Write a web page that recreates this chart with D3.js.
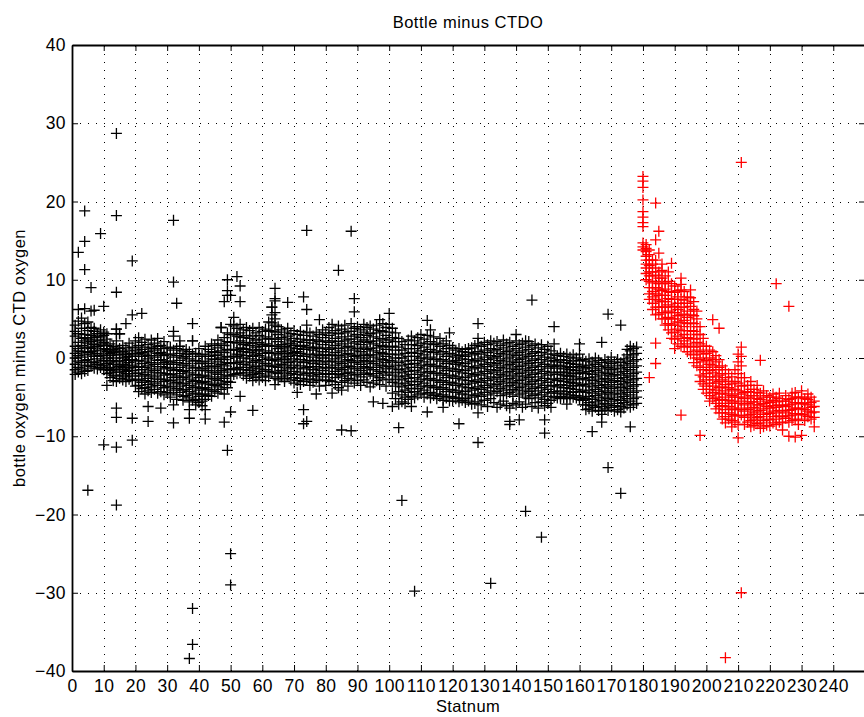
<!DOCTYPE html>
<html><head><meta charset="utf-8">
<script src="https://cdn.jsdelivr.net/npm/d3@7"></script>
<style>
html,body{margin:0;padding:0;background:#fff;overflow:hidden}
text{font-family:"Liberation Sans",Arial,Helvetica,sans-serif;fill:#000}
</style></head><body>
<svg id="chart" width="864" height="717"></svg>
<script>
// ---- data: bottle minus CTDO oxygen differences per station ----
const title = "Bottle minus CTDO";
const xLabel = "Statnum";
const yLabel = "bottle oxygen minus CTD oxygen";
const xTicks = [0,10,20,30,40,50,60,70,80,90,100,110,120,130,140,150,160,170,180,190,200,210,220,230,240];
const yTicks = [-40,-30,-20,-10,0,10,20,30,40];

// black casts: [station, values]
const blackCore = [
[1,[4.2,2.8,1.5,0.6,0,-0.8,-1.5,-2.1,3.4]],
[2,[4.7,3.1,2,1.2,0.3,-0.4,-1.2,-1.8,0.9]],
[3,[3.8,2.5,1.6,0.8,0.1,-0.6,-1.4,-2,5.1]],
[4,[4.4,3,2.2,1.4,0.5,-0.3,-1,-1.7,2.6]],
[5,[3.5,2.4,1.3,0.7,-0.2,-0.9,-1.6,1.9,4.6]],
[6,[3.9,2.9,2.1,1.2,0.4,-0.5,-1.1,2.6,0.8]],
[7,[3.4,2.6,1.7,0.9,0.2,-0.6,-1.3,3.8,1.4]],
[8,[3.1,2.3,1.5,0.6,-0.1,-0.8,-1.4,2.7,0.2]],
[9,[3.6,2.7,1.8,1,0.3,-0.4,-1.2,2.2,-0.9]],
[10,[2.9,2,1.2,0.4,-0.3,-1,-1.5,3.3,1.6]],
[11,[2.4,1.6,0.8,0,-0.7,-1.4,-2,1.1,3.1]],
[12,[1.8,1,0.3,-0.5,-1.2,-1.9,-2.5,0.6,-1.6]],
[13,[1.5,0.7,0,-0.8,-1.5,-2.2,-2.9,1.1,-0.3]],
[14,[3.7,3.1,2.2,1.3,0.4,-0.5,-1.4,-2.3,-3,0.9,-1.8]],
[15,[3.1,1.2,0.4,-0.4,-1.1,-1.8,-2.6,0.8,-0.9]],
[16,[1.6,0.8,0,-0.8,-1.5,-2.2,-2.8,0.5,-1.2]],
[17,[1.3,0.5,-0.3,-1,-1.7,-2.4,-3,0.1,-2]],
[18,[1.9,1,0.2,-0.6,-1.3,-2,-2.7,-0.2,-1.6]],
[19,[1.4,0.6,-0.2,-0.9,-1.6,-2.3,-2.9,0.2,-1.2]],
[20,[2.2,1.3,0.4,-0.4,-1.2,-2,-2.8,-3.6,0.9]],
[21,[2.6,1.6,0.6,-0.3,-1.1,-1.9,-2.7,-3.5,-4.3]],
[22,[2,1.1,0.2,-0.7,-1.5,-2.3,-3.1,-3.9,0.7]],
[23,[2.4,1.4,0.5,-0.4,-1.2,-2.1,-2.9,-3.8,-4.6]],
[24,[1.7,0.8,-0.1,-1,-1.8,-2.6,-3.4,-4.2,0.3]],
[25,[2.3,1.3,0.3,-0.6,-1.4,-2.2,-3,-3.7,-4.4]],
[26,[1.9,1,0.1,-0.8,-1.6,-2.4,-3.2,-4,1.2]],
[27,[2.5,1.5,0.6,-0.3,-1.1,-1.9,-2.7,-3.5,-4.5]],
[28,[1.6,0.7,-0.2,-1.1,-1.9,-2.7,-3.5,-4.3,0.4]],
[29,[2.1,1.2,0.3,-0.6,-1.4,-2.2,-3,-3.8,-4.7]],
[30,[1.3,0.5,-0.4,-1.2,-2,-2.8,-3.6,-4.4,-0.8]],
[31,[1.4,0.5,-0.4,-1.3,-2.1,-2.9,-3.7,-4.5,-5]],
[32,[3.4,2.8,1,0.1,-0.8,-1.6,-2.5,-3.3,-4.1]],
[33,[1.2,0.3,-0.6,-1.5,-2.3,-3.1,-3.9,-4.7,-5.3]],
[34,[1.5,0.6,-0.3,-1.2,-2,-2.8,-3.6,-4.4,2.2]],
[35,[0.9,0,-0.9,-1.7,-2.5,-3.3,-4.1,-4.9,-5.4]],
[36,[1.1,0.2,-0.7,-1.6,-2.4,-3.2,-4,-4.8,0.5]],
[37,[0.8,-0.1,-1,-1.9,-2.7,-3.5,-4.3,-5.1,-5.6]],
[38,[2.2,0.5,-0.4,-1.3,-2.2,-3,-3.8,-4.6,-5.4]],
[39,[0.6,-0.3,-1.2,-2.1,-2.9,-3.7,-4.5,-5.3,-6]],
[40,[1.2,0.2,-0.7,-1.6,-2.5,-3.3,-4.1,-4.9,-5.7]],
[41,[0.4,-0.5,-1.4,-2.3,-3.1,-3.9,-4.7,-5.5,-6.1]],
[42,[1.5,0.5,-0.4,-1.3,-2.2,-3,-3.8,-4.6,-5.3]],
[43,[1.1,0.2,-0.7,-1.6,-2.4,-3.2,-4,-4.8,-1.1]],
[44,[1.8,0.8,-0.1,-1,-1.8,-2.6,-3.4,-4.2,-4.9]],
[45,[1.6,0.7,-0.2,-1.1,-1.9,-2.7,-3.5,-4.3,0.3]],
[46,[2.3,1.3,0.4,-0.5,-1.3,-2.1,-2.9,-3.7,-4.5]],
[47,[3.9,1.8,0.9,0,-0.8,-1.6,-2.4,-3.2,-4]],
[48,[2.6,1.6,0.7,-0.2,-1,-1.8,-2.6,-3.4,-4.6]],
[49,[3.2,2.1,1.1,0.2,-0.6,-1.4,-2.2,-3,-3.8]],
[50,[4.3,3,2,1,0.1,-0.7,-1.5,-2.3,-3.1]],
[51,[4.1,3,2,1.1,0.2,-0.6,-1.4,-2.1,5.2]],
[52,[3.8,2.8,1.9,1,0.2,-0.6,-1.3,-2,0.5]],
[53,[4.3,3.2,2.2,1.3,0.4,-0.4,-1.2,-1.9,2.7]],
[54,[3.6,2.6,1.7,0.8,0,-0.8,-1.5,-2.2,1.2]],
[55,[3.9,2.9,2,1.1,0.3,-0.5,-1.2,-1.9,-2.6]],
[56,[3.5,2.5,1.6,0.7,-0.1,-0.9,-1.6,-2.3,1.9]],
[57,[3.8,2.8,1.9,1,0.2,-0.6,-1.4,-2.1,-2.9]],
[58,[3.2,2.3,1.4,0.5,-0.3,-1.1,-1.8,-2.5,0.9]],
[59,[3.9,2.9,2,1.1,0.3,-0.5,-1.3,-2,-2.8]],
[60,[3.4,2.4,1.5,0.6,-0.2,-1,-1.7,-2.4,1.7]],
[61,[3.7,2.7,1.8,0.9,0.1,-0.7,-1.5,-2.2,-2.9]],
[62,[4.6,3.5,2.5,1.6,0.7,-0.1,-0.9,-1.7,-2.4]],
[63,[6.5,5.5,4.5,3.4,2.4,1.5,0.6,-0.3,-1.1,-1.9]],
[64,[5,4.2,3.3,2.4,1.5,0.6,-0.2,-1,-1.8,-2.6]],
[65,[4,3,2.1,1.2,0.4,-0.4,-1.2,-2,-2.8]],
[66,[3.6,2.6,1.7,0.8,0,-0.8,-1.6,-2.4,1.3]],
[67,[3.3,2.4,1.5,0.6,-0.2,-1,-1.8,-2.6,-3]],
[68,[3.8,2.8,1.9,1,0.2,-0.6,-1.4,-2.2,0.6]],
[69,[3.1,2.2,1.3,0.4,-0.4,-1.2,-2,-2.8,1.8]],
[70,[3.5,2.5,1.6,0.7,-0.1,-0.9,-1.7,-2.5,-3.2]],
[71,[3,2.1,1.2,0.3,-0.5,-1.3,-2.1,-2.9,0.8]],
[72,[3.4,2.4,1.5,0.6,-0.2,-1,-1.8,-2.6,-3.4]],
[73,[2.9,2,1.1,0.2,-0.6,-1.4,-2.2,-3,1.6]],
[74,[4.2,3.3,2.3,1.3,0.4,-0.4,-1.2,-2,-2.8]],
[75,[3.2,2.3,1.4,0.5,-0.3,-1.1,-1.9,-2.7,-3.5]],
[76,[2.8,1.9,1,0.1,-0.7,-1.5,-2.3,-3.1,1.3]],
[77,[3.3,2.3,1.4,0.5,-0.3,-1.1,-1.9,-2.7,-4.6]],
[78,[3,2.1,1.2,0.3,-0.5,-1.3,-2.1,-2.9,-3.6]],
[79,[3.6,2.6,1.7,0.8,0,-0.8,-1.6,-2.4,0.4]],
[80,[3.2,2.2,1.3,0.4,-0.4,-1.2,-2,-2.8,-3.5]],
[81,[3.9,2.9,2,1.1,0.3,-0.5,-1.3,-2.1,-2.9]],
[82,[4.3,3.2,2.2,1.3,0.4,-0.4,-1.2,-2,-3]],
[83,[3.5,2.5,1.6,0.7,-0.1,-0.9,-1.7,-2.5,-3.4]],
[84,[4.1,3.1,2.1,1.2,0.3,-0.5,-1.3,-2.1,-3.8]],
[85,[3.7,2.7,1.8,0.9,0.1,-0.7,-1.5,-2.3,-3.1]],
[86,[4.2,3.2,2.2,1.3,0.4,-0.4,-1.2,-2,-2.9]],
[87,[3.4,2.4,1.5,0.6,-0.2,-1,-1.8,-2.6,-3.6]],
[88,[4.4,3.4,2.4,1.4,0.5,-0.3,-1.1,-1.9,-2.7]],
[89,[3.8,2.8,1.9,1,0.2,-0.6,-1.4,-2.2,-3.2]],
[90,[4,3,2.1,1.2,0.3,-0.5,-1.3,-2.1,-2.9]],
[91,[3.6,2.6,1.7,0.8,0,-0.8,-1.6,-2.4,-3.5]],
[92,[4.3,3.3,2.3,1.4,0.5,-0.3,-1.1,-1.9,-2.8]],
[93,[3.9,2.9,2,1.1,0.3,-0.5,-1.3,-2.1,-3.1]],
[94,[4.1,3.1,2.1,1.2,0.4,-0.4,-1.2,-2,-3.7]],
[95,[3.7,2.7,1.8,0.9,0.1,-0.7,-1.5,-2.3,-3.2]],
[96,[4.2,3.2,2.2,1.3,0.4,-0.4,-1.2,-2,-2.9]],
[97,[3.5,2.5,1.6,0.7,-0.1,-0.9,-1.7,-2.5,-3.4]],
[98,[4.4,3.4,2.4,1.5,0.6,-0.2,-1,-1.8,-2.7]],
[99,[3.9,2.9,2,1.1,0.2,-0.6,-1.4,-2.2,-3.6]],
[100,[4.3,3.3,2.3,1.4,0.5,-0.3,-1.1,-1.9,-2.8]],
[101,[3.8,2.6,1.5,0.5,-0.4,-1.3,-2.2,-3.1,-4.5]],
[102,[3.2,2.1,1,0,-0.9,-1.8,-2.7,-3.6,-5.2]],
[103,[2.5,1.4,0.4,-0.6,-1.5,-2.4,-3.3,-4.3,-5.9]],
[104,[2.1,1,0,-1,-1.9,-2.8,-3.7,-4.7,-5.6]],
[105,[1.7,0.6,-0.4,-1.4,-2.3,-3.2,-4.1,-5,-5.8]],
[106,[2.3,1.2,0.2,-0.8,-1.7,-2.6,-3.5,-4.4,-5.3]],
[107,[2.8,1.7,0.7,-0.3,-1.2,-2.1,-3,-3.9,-4.9]],
[108,[2.2,1.2,0.2,-0.7,-1.6,-2.5,-3.4,-4.3,-5.1]],
[109,[2.6,1.6,0.6,-0.3,-1.2,-2.1,-3,-3.9,-4.7]],
[110,[3,1.9,0.9,0,-0.9,-1.8,-2.7,-3.6,-4.5]],
[111,[2.4,1.4,0.4,-0.5,-1.4,-2.3,-3.2,-4.1,-5]],
[112,[2.9,1.8,0.8,-0.1,-1,-1.9,-2.8,-3.7,-4.6]],
[113,[2.1,1.1,0.1,-0.8,-1.7,-2.6,-3.5,-4.4,-5.1]],
[114,[2.7,1.7,0.7,-0.2,-1.1,-2,-2.9,-3.8,-4.8]],
[115,[1.9,0.9,-0.1,-1,-1.9,-2.8,-3.7,-4.6,-5.2]],
[116,[2.5,1.5,0.5,-0.4,-1.3,-2.2,-3.1,-4,-4.9]],
[117,[1.8,0.8,-0.2,-1.1,-2,-2.9,-3.8,-4.7,-5.4]],
[118,[2.2,1.2,0.2,-0.7,-1.6,-2.5,-3.4,-4.3,-5.1]],
[119,[1.6,0.6,-0.4,-1.3,-2.2,-3.1,-4,-4.9,-5.5]],
[120,[1.3,0.4,-0.5,-1.4,-2.3,-3.2,-4.1,-5,-5.5]],
[121,[1,0.1,-0.8,-1.7,-2.6,-3.5,-4.4,-5.2,-0.3]],
[122,[1.2,0.3,-0.6,-1.5,-2.4,-3.3,-4.2,-5.1,-5.6]],
[123,[0.8,-0.1,-1,-1.9,-2.8,-3.7,-4.6,-5.4,0.4]],
[124,[1.1,0.2,-0.7,-1.6,-2.5,-3.4,-4.3,-5.2,-5.7]],
[125,[0.7,-0.2,-1.1,-2,-2.9,-3.8,-4.7,-5.5,1.2]],
[126,[1.3,0.4,-0.5,-1.4,-2.3,-3.2,-4.1,-5,-5.9]],
[127,[1.6,0.6,-0.3,-1.2,-2.1,-3,-3.9,-4.8,-5.8]],
[128,[1.8,0.8,-0.1,-1,-1.9,-2.8,-3.7,-4.6,-5.6]],
[129,[1.5,0.5,-0.4,-1.3,-2.2,-3.1,-4,-4.9,-6]],
[130,[2,1,0.1,-0.8,-1.7,-2.6,-3.5,-4.4,-5.4]],
[131,[1.7,0.7,-0.2,-1.1,-2,-2.9,-3.8,-4.7,-6.2]],
[132,[2.2,1.2,0.3,-0.6,-1.5,-2.4,-3.3,-4.2,-5.2]],
[133,[1.9,0.9,0,-0.9,-1.8,-2.7,-3.6,-4.5,-5.7]],
[134,[2.1,1.1,0.2,-0.7,-1.6,-2.5,-3.4,-4.3,-6.3]],
[135,[1.6,0.6,-0.3,-1.2,-2.1,-3,-3.9,-4.8,-5.9]],
[136,[2.3,1.3,0.4,-0.5,-1.4,-2.3,-3.2,-4.1,-5.5]],
[137,[1.8,0.8,-0.1,-1,-1.9,-2.8,-3.7,-4.6,-6.1]],
[138,[2,1,0.1,-0.8,-1.7,-2.6,-3.5,-4.4,-6.4]],
[139,[1.5,0.5,-0.4,-1.3,-2.2,-3.1,-4,-4.9,-5.8]],
[140,[2.2,1.2,0.3,-0.6,-1.5,-2.4,-3.3,-4.2,-6]],
[141,[1.7,0.7,-0.2,-1.1,-2,-2.9,-3.8,-4.7,-5.6]],
[142,[1.9,0.9,0,-0.9,-1.8,-2.7,-3.6,-4.5,-6.3]],
[143,[1.4,0.4,-0.5,-1.4,-2.3,-3.2,-4.1,-5,-5.9]],
[144,[2.1,1.1,0.2,-0.7,-1.6,-2.5,-3.4,-4.3,-5.2]],
[145,[1.6,0.6,-0.3,-1.2,-2.1,-3,-3.9,-4.8,-6.2]],
[146,[1.8,0.8,-0.1,-1,-1.9,-2.8,-3.7,-4.6,-5.7]],
[147,[1.3,0.3,-0.6,-1.5,-2.4,-3.3,-4.2,-5.1,-6.4]],
[148,[1.7,0.7,-0.2,-1.1,-2,-2.9,-3.8,-4.7,-5.6]],
[149,[1.1,0.1,-0.8,-1.7,-2.6,-3.5,-4.4,-5.3,-6.1]],
[150,[1.5,0.5,-0.4,-1.3,-2.2,-3.1,-4,-4.9,-5.8]],
[151,[0.9,0,-0.9,-1.8,-2.7,-3.6,-4.5,-5.4,-6.3]],
[152,[0.5,-0.3,-1.1,-1.9,-2.7,-3.5,-4.3,-5,1.8]],
[153,[0.3,-0.5,-1.3,-2.1,-2.9,-3.7,-4.5,-5.1,-0.9]],
[154,[0.6,-0.2,-1,-1.8,-2.6,-3.4,-4.2,-4.9,-5.2]],
[155,[0.2,-0.6,-1.4,-2.2,-3,-3.8,-4.6,-5.1,-1.8]],
[156,[0.5,-0.3,-1.1,-1.9,-2.7,-3.5,-4.3,-5,-2.3]],
[157,[0.1,-0.7,-1.5,-2.3,-3.1,-3.9,-4.7,-5.2,-1.2]],
[158,[0.4,-0.4,-1.2,-2,-2.8,-3.6,-4.4,-5,-3.2]],
[159,[0,-0.8,-1.6,-2.4,-3.2,-4,-4.8,-5.1,-2]],
[160,[0.5,-0.3,-1.1,-1.9,-2.7,-3.5,-4.3,-5,-5.3]],
[161,[-0.2,-1,-1.8,-2.6,-3.4,-4.2,-5,-5.4,-1.4]],
[162,[-0.4,-1.2,-2,-2.8,-3.6,-4.4,-5.2,-6,-6.6]],
[163,[-0.1,-0.9,-1.7,-2.5,-3.3,-4.1,-4.9,-5.7,-6.5]],
[164,[-0.5,-1.3,-2.1,-2.9,-3.7,-4.5,-5.3,-6.1,-6.8]],
[165,[0,-0.8,-1.6,-2.4,-3.2,-4,-4.8,-5.6,-6.3]],
[166,[-0.3,-1.1,-1.9,-2.7,-3.5,-4.3,-5.1,-5.9,-6.7]],
[167,[-0.6,-1.4,-2.2,-3,-3.8,-4.6,-5.4,-6.2,-6.8]],
[168,[-0.2,-1,-1.8,-2.6,-3.4,-4.2,-5,-5.8,-6.5]],
[169,[-0.4,-1.2,-2,-2.8,-3.6,-4.4,-5.2,-6,-6.7]],
[170,[0.1,-0.7,-1.5,-2.3,-3.1,-3.9,-4.7,-5.5,-6.3]],
[171,[-0.5,-1.3,-2.1,-2.9,-3.7,-4.5,-5.3,-6.1,-6.8]],
[172,[-0.2,-1,-1.8,-2.6,-3.4,-4.2,-5,-5.8,-6.6]],
[173,[-0.6,-1.4,-2.2,-3,-3.8,-4.6,-5.4,-6.2,-6.9]],
[174,[-0.1,-0.9,-1.7,-2.5,-3.3,-4.1,-4.9,-5.7,-6.4]],
[175,[0.4,-0.4,-1.2,-2,-2.8,-3.6,-4.4,-5.2,-6]],
[176,[1.5,0.9,0.1,-0.7,-1.5,-2.3,-3.1,-3.9,-4.7,-5.5,-6.3]],
[177,[1.2,0.4,-0.4,-1.2,-2,-2.8,-3.6,-4.4,-5.2,-6]],
[178,[1.4,0.6,-0.2,-1,-1.8,-2.6,-3.4,-4.2,-5,-5.8]]
];

// isolated black points: [station, value]
const blackOutliers = [
[2,13.5],[4,18.8],[4,14.9],[4,11.3],[9,15.9],[14,28.7],[14,18.2],[19,12.4],[6,9],[14,8.4],
[32,17.6],[32,9.7],[33,7],[10,6.6],[2,6.2],[4,6.3],[6,6],[7,6.1],[19,5.5],[22,5.7],[17,4.4],
[38,4.4],[38,2.2],[14,3.7],[15,3.1],[47,3.9],[49,10],[52,10.4],[53,9.2],[49,8.6],[49,8],[50,8],
[48,7.2],[53,7.2],[74,16.3],[88,16.2],[84,11.2],[64,8.9],[64,7.6],[64,7.3],[63,6.5],[64,5.8],
[68,7.1],[73,7.8],[74,6.2],[89,7.6],[89,5.9],[97,4.9],[100,5.7],[112,4.8],[113,3.6],[78,4.9],
[128,4.4],[128,2.5],[119,3.2],[140,3],[143,2.2],[145,7.4],[152,4],[160,1.8],[167,2],[169,5.6],
[173,4.2],[175,1.1],
[5,-16.9],[10,-11.1],[14,-11.4],[19,-10.5],[14,-18.8],[24,-8.1],[32,-8.3],[48,-8.2],[49,-11.8],
[50,-25],[50,-29],[38,-32],[38,-36.6],[37,-38.4],[11,-3.5],[14,-6.4],[14,-7.6],[19,-7.7],
[24,-6.2],[28,-6.4],[32,-6],[37,-6.6],[37,-7.7],[42,-6.6],[42,-7.8],[50,-6.9],[53,-4.9],
[57,-6.7],[64,-3.4],[71,-4.4],[73,-6.6],[73,-8.4],[74,-8.1],[82,-4.5],[85,-4.1],[85,-9.2],
[88,-9.3],[95,-5.6],[98,-5.8],[101,-6.2],[103,-8.9],[104,-18.2],[108,-29.8],[107,-6.2],
[112,-6.9],[117,-6.3],[122,-8.4],[128,-7],[128,-10.8],[132,-28.8],[138,-8.1],[138,-8.5],
[141,-7.9],[143,-19.6],[148,-22.9],[149,-7.9],[149,-9.6],[156,-5.9],[161,-6],[164,-9.4],
[167,-8.2],[167,-7.2],[169,-14],[173,-17.3],[176,-8.8]
];

// red casts: [station, values]
const redCore = [
[180,[23.2,22.6,21.8,20.2,18.7,18,17.3,16.8,14.7,14.2,13.8]],
[181,[14.5,14,13.6,13,12.5,12,11.5,10.8,10]],
[182,[13.8,13.2,12.5,11.8,11,10.5,9.8,9,8.2,7.5]],
[183,[12.5,12,11,10.5,9.6,9,8.5,7.8,7,6.2]],
[184,[19.8,15.1,12.5,11.5,10.6,9.8,9,8.2,7.5,6.5,5.5]],
[185,[16.2,13.4,11,10.2,9.5,8.8,8,7.3,6.5,5.6]],
[186,[12,11.2,10.2,9.5,8.6,8,7.2,6.5,5.8,5]],
[187,[10.5,9.6,8.8,8,7.2,6.5,5.8,5,4.2]],
[188,[11,9.8,8.5,7.6,6.8,6,5.2,4.4,3.6]],
[189,[12.1,9.5,8.4,7.5,6.5,5.8,5,4.2,3.2,2.5]],
[190,[9.2,8.4,7.5,6.6,5.8,5,4.2,3.3,2.4,1.2]],
[191,[8.6,7.8,7,6.2,5.4,4.6,3.7,2.8,1.8]],
[192,[10.2,9.4,8.7,7.5,6.5,5.5,4.5,3.5,2.5,1.5]],
[193,[8.5,7.4,6.5,5.6,4.8,4,3,2.2,1.4]],
[194,[7.8,7,6,5.2,4.4,3.5,2.6,1.8,0.8]],
[195,[8.7,7.7,6.6,5.5,4.5,3.5,2.5,1.5,0.5]],
[196,[7.2,6.2,5.4,4.4,3.4,2.4,1.4,0.4,-0.6]],
[197,[6,5,4,3,2,1,0,-1]],
[198,[4,3,1.8,0.8,-0.2,-1.2,-2.2,-3]],
[199,[2.5,1.5,0.5,-0.5,-1.5,-2.4,-3.3,-4]],
[200,[1.5,0.6,-0.3,-1.2,-2,-2.8,-3.6,-4.5]],
[201,[1,0,-0.8,-1.6,-2.4,-3.2,-4,-4.8,-5.5]],
[202,[0.8,-0.2,-1,-1.9,-2.8,-3.6,-4.4,-5.2]],
[203,[0.3,-0.5,-1.5,-2.4,-3.2,-4.1,-5,-5.8,-6.5]],
[204,[-0.2,-1.2,-2.2,-3,-3.8,-4.6,-5.4,-6.2,-7]],
[205,[-1,-2,-2.8,-3.7,-4.5,-5.3,-6.1,-7,-7.8]],
[206,[-1.5,-2.5,-3.4,-4.2,-5,-5.8,-6.6,-7.5,-8.3]],
[207,[-2,-3,-3.8,-4.6,-5.4,-6.2,-7,-7.8]],
[208,[-2.4,-3.3,-4,-4.8,-5.6,-6.4,-7.2,-8,-8.8]],
[209,[-1.5,-3,-4,-5,-5.8,-6.6,-7.4,-8.2]],
[210,[0.5,-0.5,-2,-3.2,-4.2,-5,-5.8,-6.6,-7.4,-8.5]],
[211,[1.4,0.2,-1,-2.5,-3.6,-4.6,-5.5,-6.4,-7.3]],
[212,[-2.5,-3.5,-4.4,-5.2,-6,-6.8,-7.6,-8.5]],
[213,[-3.5,-4.3,-5,-5.8,-6.6,-7.4,-8.2]],
[214,[-3,-4,-4.8,-5.6,-6.4,-7.2,-8,-8.8]],
[215,[-4,-4.8,-5.6,-6.3,-7,-7.8,-8.6]],
[216,[-3.5,-4.4,-5.2,-6,-6.8,-7.6,-8.4]],
[217,[-0.3,-4.5,-5.3,-6,-6.7,-7.5,-8.3,-9]],
[218,[-4.2,-5,-5.8,-6.5,-7.2,-8,-8.8]],
[219,[-4.8,-5.5,-6.2,-7,-7.8,-8.6]],
[220,[-5,-5.7,-6.4,-7.1,-7.9,-8.7]],
[221,[-4.6,-5.4,-6.1,-6.8,-7.5,-8.3]],
[222,[9.5,-5,-5.6,-6.3,-7,-7.8,-8.5]],
[223,[-4.5,-5.2,-6,-6.7,-7.4,-8.2]],
[224,[-5.5,-6.1,-6.8,-7.5,-8.3,-9.2]],
[225,[-4.8,-5.5,-6.2,-7,-7.7]],
[226,[6.6,-5.3,-6,-6.7,-7.4,-8.2,-10]],
[227,[-4.5,-5.2,-5.9,-6.6,-7.3,-8]],
[228,[-4.4,-5,-5.7,-6.4,-7.1,-7.9,-10.1]],
[229,[-5,-5.7,-6.4,-7.1,-7.8,-8.5]],
[230,[-4.2,-5,-5.8,-6.5,-7.2,-9.9]],
[231,[-5.2,-5.9,-6.6,-7.3,-8]],
[232,[-4.6,-5.3,-6,-6.8,-7.5]],
[233,[-5,-5.7,-6.3,-7,-7.8]],
[234,[-5.5,-6.2,-6.9,-7.6,-8.8]]
];
const redOutliers = [
[182,-2.5],[184,1.9],[184,-0.7],[192,-7.3],[198,-9.9],[210,-10.2],[211,25],[211,-30],
[206,-38.3],[202,4.9],[204,3.8]
];

// ---- layout ----
const W = 864, H = 717;
const m = {left:72, right:0, top:45, bottom:46};
const svg = d3.select("#chart");
const x = d3.scaleLinear().domain([0,250]).range([m.left, W - m.right + 1]);
const y = d3.scaleLinear().domain([-40,40]).range([H - m.bottom, m.top]);
const x0 = x.range()[0], x1 = x.range()[1], y0 = y.range()[0], y1 = y.range()[1];

// grid
const grid = svg.append("g").attr("stroke","#000").attr("stroke-width",1).attr("stroke-dasharray","1,7");
grid.selectAll("line.v").data(xTicks.filter(d=>d>0)).join("line")
  .attr("x1",d=>Math.round(x(d))+0.5).attr("x2",d=>Math.round(x(d))+0.5).attr("y1",y0).attr("y2",y1);
grid.selectAll("line.h").data(yTicks.filter(d=>d>-40&&d<40)).join("line")
  .attr("y1",d=>Math.round(y(d))+0.5).attr("y2",d=>Math.round(y(d))+0.5).attr("x1",x0).attr("x2",x1);

// axes with inward ticks
const fmt = d3.format("");
const gx = svg.append("g").attr("transform",`translate(0,${y0})`)
  .call(d3.axisBottom(x).tickValues(xTicks).tickSize(-6).tickSizeOuter(0).tickPadding(9).tickFormat(d=>fmt(d)));
const gxt = svg.append("g").attr("transform",`translate(0,${y1})`)
  .call(d3.axisTop(x).tickValues(xTicks).tickSize(-6).tickSizeOuter(0).tickFormat(""));
const gy = svg.append("g").attr("transform",`translate(${x0},0)`)
  .call(d3.axisLeft(y).tickValues(yTicks).tickSize(-6).tickSizeOuter(0).tickPadding(6));
const gyr = svg.append("g").attr("transform",`translate(${x1},0)`)
  .call(d3.axisRight(y).tickValues(yTicks).tickSize(-6).tickSizeOuter(0).tickFormat(""));
[gx,gxt,gy,gyr].forEach(g=>{
  g.select(".domain").attr("stroke","#000").attr("stroke-width",1.8);
  g.selectAll(".tick line").attr("stroke","#000").attr("stroke-width",1);
  g.selectAll("text").attr("font-size",17.5).attr("letter-spacing","0.4px")
    .attr("font-family","Liberation Sans, Arial, sans-serif").attr("fill","#000");
});

// points
const plus = "M-5.5,0H5.5M0,-5.5V5.5";
function flat(core, out){
  const pts = [];
  core.forEach(([s,vals])=>vals.forEach(v=>pts.push([s,v])));
  out.forEach(p=>pts.push(p));
  return pts;
}
const blackPts = flat(blackCore, blackOutliers);
const redPts = flat(redCore, redOutliers);
svg.append("g").attr("stroke","#000").attr("stroke-width",1.3).attr("fill","none")
  .selectAll("path").data(blackPts).join("path")
  .attr("transform",d=>`translate(${x(d[0])},${y(d[1])})`).attr("d",plus);
svg.append("g").attr("stroke","#ff0000").attr("stroke-width",1.3).attr("fill","none")
  .selectAll("path").data(redPts).join("path")
  .attr("transform",d=>`translate(${x(d[0])},${y(d[1])})`).attr("d",plus);

// labels
svg.append("text").attr("x",468).attr("y",28).attr("text-anchor","middle")
  .attr("font-size",16.5).attr("letter-spacing","0.5px").text(title);
svg.append("text").attr("x",468).attr("y",712).attr("text-anchor","middle")
  .attr("font-size",16.5).attr("letter-spacing","0.4px").text(xLabel);
svg.append("text").attr("transform","translate(25,358) rotate(-90)").attr("text-anchor","middle")
  .attr("font-size",16.5).attr("letter-spacing","0.5px").text(yLabel);
</script>
</body></html>
